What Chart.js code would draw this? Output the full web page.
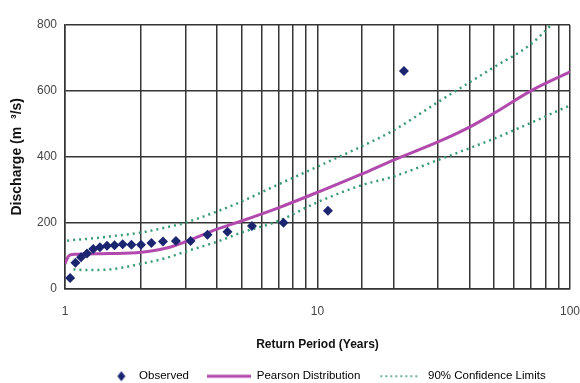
<!DOCTYPE html>
<html lang="en">
<head>
<meta charset="UTF-8">
<title>Flood frequency</title>
<script src="https://cdn.jsdelivr.net/npm/chart.js"></script>
<style>
  body { margin: 0; background: #fff; }
</style>
</head>
<body>
<canvas id="myChart" width="580" height="383"></canvas>
<script>
// observed annual floods: return period (years) and discharge (m3/s)
const obsPeriod = [1.048, 1.1, 1.158, 1.222, 1.294, 1.375, 1.467, 1.571, 1.692, 1.833, 2.0,
                   2.2, 2.444, 2.75, 3.143, 3.667, 4.4, 5.5, 7.333, 11.0, 22.0];
const obsFlow = [32, 78, 95, 106, 120, 125, 130, 131, 134, 133, 133,
                 138, 143, 144, 144, 163, 172, 190, 200, 236, 660];

// fitted Pearson curve
const fitPeriod = [1, 1.03, 1.05, 1.1, 1.2, 1.5, 2, 2.5, 3, 4, 5, 7, 10, 15, 20, 30, 40, 50, 70, 100];
const fitFlow = [75, 97, 102, 104, 105, 106, 110, 122, 142, 180, 205, 245, 292, 348, 390, 445, 490, 532, 600, 658];

// 90% confidence limits
const upPeriod = [1.02, 1.1, 1.2, 1.5, 2, 2.5, 3, 4, 5, 7, 10, 15, 20, 30, 50, 70, 100];
const upFlow = [145, 148, 150, 158, 170, 185, 200, 234, 264, 316, 370, 432, 480, 566, 672, 742, 860];
const lowPeriod = [1.08, 1.2, 1.5, 2, 2.5, 3, 4, 5, 7, 10, 15, 20, 30, 50, 70, 100];
const lowFlow = [58, 56, 58, 75, 92, 112, 142, 170, 205, 262, 314, 340, 390, 455, 503, 556];

const xLabels = [1, 10, 100];

const FONT = 'Liberation Sans, Arial, sans-serif';
const GRID = '#353535';
const NAVY = '#1c2570';
const MAGENTA = '#b24aae';
const GREEN = '#3a9c74';

function toPoints(xs, ys) {
    return xs.map((x, i) => ({ x: x, y: ys[i] }));
}

// small pictures for the legend symbols
function legendIcon(kind) {
    const c = document.createElement('canvas');
    c.width = 44;
    c.height = 12;
    const g = c.getContext('2d');
    if (kind === 'diamond') {
        g.fillStyle = NAVY;
        g.beginPath();
        g.moveTo(32, 1); g.lineTo(36, 6); g.lineTo(32, 11); g.lineTo(28, 6);
        g.closePath();
        g.fill();
    } else if (kind === 'line') {
        g.strokeStyle = MAGENTA;
        g.lineWidth = 3;
        g.beginPath(); g.moveTo(0, 6); g.lineTo(44, 6); g.stroke();
    } else {
        g.strokeStyle = GREEN;
        g.lineWidth = 1.5;
        g.setLineDash([2, 3]);
        g.beginPath(); g.moveTo(2, 6); g.lineTo(42, 6); g.stroke();
    }
    return c;
}
const icons = [legendIcon('diamond'), legendIcon('line'), legendIcon('dots')];

const config = {
    type: 'line',
    data: {
        datasets: [{
            label: 'Observed',
            data: toPoints(obsPeriod, obsFlow),
            showLine: false,
            pointStyle: 'rectRot',
            pointRadius: 5,
            backgroundColor: NAVY,
            borderColor: NAVY,
            borderWidth: 0
        }, {
            label: 'Pearson Distribution',
            data: toPoints(fitPeriod, fitFlow),
            borderColor: MAGENTA,
            borderWidth: 3,
            pointRadius: 0,
            cubicInterpolationMode: 'monotone'
        }, {
            label: '90% Confidence Limits',
            data: toPoints(upPeriod, upFlow),
            borderColor: GREEN,
            borderWidth: 2.5,
            borderDash: [2, 4],
            pointRadius: 0,
            cubicInterpolationMode: 'monotone'
        }, {
            label: 'lower',
            data: toPoints(lowPeriod, lowFlow),
            borderColor: GREEN,
            borderWidth: 2.5,
            borderDash: [2, 4],
            pointRadius: 0,
            cubicInterpolationMode: 'monotone'
        }]
    },
    options: {
        responsive: false,
        animation: false,
        layout: { padding: { left: 0, right: 0, top: 25, bottom: -9 } },
        scales: {
            x: {
                type: 'logarithmic',
                min: 1,
                max: 100,
                grid: { color: GRID, lineWidth: 1.5, drawTicks: false },
                border: { color: GRID, width: 1.5 },
                ticks: {
                    autoSkip: false,
                    maxRotation: 0,
                    padding: 16,
                    color: '#444',
                    font: { family: FONT, size: 12 },
                    callback: (v) => xLabels.includes(v) ? String(v) : ''
                },
                title: {
                    display: true,
                    text: 'Return Period (Years)',
                    color: '#111',
                    font: { family: FONT, size: 12, weight: 'bold' },
                    padding: { top: 10, bottom: 1 }
                },
                afterFit: (s) => {
                    s.height = 64;
                    // keep only half of the "100" label as right margin
                    s.paddingRight = 10;
                    s.paddingLeft = 0;
                }
            },
            y: {
                min: 0,
                max: 800,
                ticks: {
                    stepSize: 200,
                    padding: 8,
                    color: '#444',
                    font: { family: FONT, size: 12 }
                },
                grid: { color: GRID, lineWidth: 1.5, drawTicks: false },
                border: { color: GRID, width: 1.5 },
                title: {
                    display: true,
                    text: 'Discharge (m  ³/s)',
                    color: '#111',
                    font: { family: FONT, size: 14, weight: 'bold' },
                    padding: { top: 9, bottom: 0 }
                },
                afterFit: (s) => { s.width = 65; }
            }
        },
        plugins: {
            legend: {
                position: 'bottom',
                fullSize: false,
                labels: {
                    usePointStyle: true,
                    pointStyleWidth: 44,
                    padding: 18,
                    color: '#222',
                    font: { family: FONT, size: 11.5 },
                    generateLabels: (chart) => chart.data.datasets.slice(0, 3).map((ds, i) => ({
                        text: ds.label,
                        pointStyle: icons[i],
                        fillStyle: 'transparent',
                        strokeStyle: 'transparent',
                        lineWidth: 0,
                        datasetIndex: i
                    }))
                }
            },
            tooltip: { enabled: false }
        }
    }
};

new Chart(document.getElementById('myChart'), config);
</script>
</body>
</html>
